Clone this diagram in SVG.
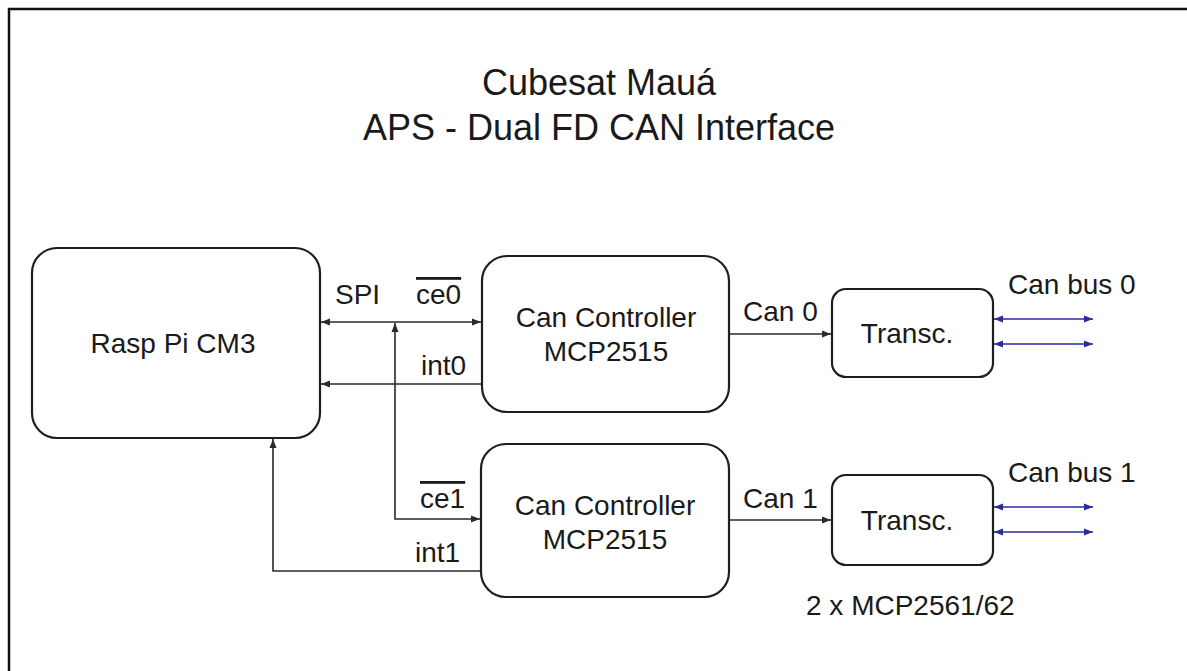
<svg xmlns="http://www.w3.org/2000/svg" width="1187" height="671" viewBox="0 0 1187 671">
<style>
text{font-family:"Liberation Sans",Arial,sans-serif;fill:#1a1a1a;font-size:28px}
.t{font-size:36px;text-anchor:middle}
.c{text-anchor:middle}
.ol{text-decoration:overline}
.box{fill:#fff;stroke:#1e1e1e;stroke-width:2.2}
.ln{fill:none;stroke:#2a2a2a;stroke-width:1.6}
.bl{fill:none;stroke:#2b2ba0;stroke-width:1.6}
</style>
<defs>
<marker id="ah" markerUnits="userSpaceOnUse" markerWidth="10" markerHeight="8" refX="9" refY="4" orient="auto-start-reverse"><path d="M0,0.5 L9,4 L0,7.5 Z" fill="#2a2a2a"/></marker>
<marker id="ab" markerUnits="userSpaceOnUse" markerWidth="10" markerHeight="8" refX="9" refY="4" orient="auto-start-reverse"><path d="M0,0.5 L9,4 L0,7.5 Z" fill="#2b2ba0"/></marker>
</defs>
<rect width="1187" height="671" fill="#fff"/>
<path d="M9,671 L9,9 L1187,9" fill="none" stroke="#111" stroke-width="2.5"/>
<g id="title">
<text class="t" x="599" y="95">Cubesat Mauá</text>
<text class="t" x="599" y="140">APS - Dual FD CAN Interface</text>
</g>
<g id="connectors">
<line class="ln" x1="321" y1="322" x2="481" y2="322" marker-start="url(#ah)" marker-end="url(#ah)"/>
<path class="ln" d="M395,323 L395,519 L480,519" marker-start="url(#ah)" marker-end="url(#ah)"/>
<line class="ln" x1="482" y1="384" x2="321" y2="384" marker-end="url(#ah)"/>
<path class="ln" d="M481,571 L273,571 L273,439" marker-end="url(#ah)"/>
<line class="ln" x1="729" y1="334" x2="831" y2="334" marker-end="url(#ah)"/>
<line class="ln" x1="729" y1="520" x2="831" y2="520" marker-end="url(#ah)"/>
<line class="bl" x1="994" y1="319" x2="1093" y2="319" marker-start="url(#ab)" marker-end="url(#ab)"/>
<line class="bl" x1="994" y1="344" x2="1093" y2="344" marker-start="url(#ab)" marker-end="url(#ab)"/>
<line class="bl" x1="994" y1="507" x2="1093" y2="507" marker-start="url(#ab)" marker-end="url(#ab)"/>
<line class="bl" x1="994" y1="532" x2="1093" y2="532" marker-start="url(#ab)" marker-end="url(#ab)"/>
<text x="335" y="304">SPI</text>
<text class="ol" x="416" y="304">ce0</text>
<text x="421" y="375">int0</text>
<text class="ol" x="420" y="508">ce1</text>
<text x="415" y="562">int1</text>
<text x="743" y="321">Can 0</text>
<text x="743" y="508">Can 1</text>
<text x="1008" y="294">Can bus 0</text>
<text x="1008" y="482">Can bus 1</text>
</g>
<g id="raspi">
<rect class="box" x="32" y="248" width="288" height="190" rx="25"/>
<text class="c" x="173" y="353">Rasp Pi CM3</text>
</g>
<g id="cc0">
<rect class="box" x="482" y="256" width="247" height="156" rx="25"/>
<text class="c" x="606" y="327">Can Controller</text>
<text class="c" x="606" y="361">MCP2515</text>
</g>
<g id="cc1">
<rect class="box" x="481" y="444" width="248" height="153" rx="25"/>
<text class="c" x="605" y="515">Can Controller</text>
<text class="c" x="605" y="549">MCP2515</text>
</g>
<g id="tr0">
<rect class="box" x="832" y="289" width="161" height="88" rx="14"/>
<text class="c" x="907" y="343">Transc.</text>
</g>
<g id="tr1">
<rect class="box" x="832" y="475" width="161" height="90" rx="14"/>
<text class="c" x="907" y="530">Transc.</text>
</g>
<g id="note">
<text x="806" y="615">2 x MCP2561/62</text>
</g>
</svg>
